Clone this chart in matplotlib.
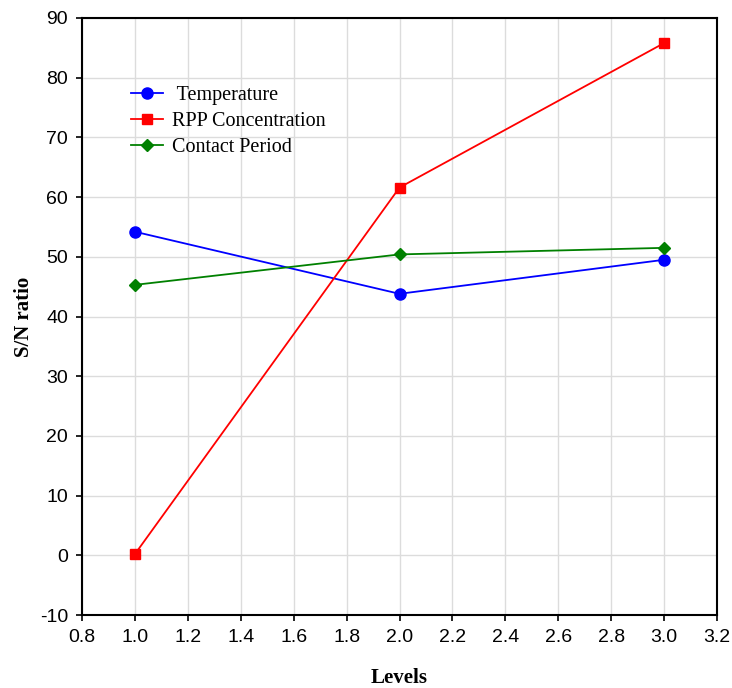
import matplotlib
matplotlib.use("Agg")
import matplotlib.pyplot as plt

plt.rcParams["axes.unicode_minus"] = False

# ── Data ─────────────────────────────────────────
levels = [1.0, 2.0, 3.0]
temperature = [54.2, 43.8, 49.5]
rpp_concentration = [0.2, 61.6, 85.8]
contact_period = [45.3, 50.4, 51.5]

xticks = [0.8, 1.0, 1.2, 1.4, 1.6, 1.8, 2.0, 2.2, 2.4, 2.6, 2.8, 3.0, 3.2]
yticks = [-10, 0, 10, 20, 30, 40, 50, 60, 70, 80, 90]

fig = plt.figure(figsize=(7.32, 6.88), dpi=100)
ax = fig.add_axes([82 / 732, 1 - 615 / 688, 635 / 732, 597 / 688])

ax.plot(levels, temperature, color="#0000ff", marker="o", markersize=8,
        linewidth=1.3, label=" Temperature", zorder=5)
ax.plot(levels, rpp_concentration, color="#ff0000", marker="s", markersize=7.5,
        linewidth=1.3, label="RPP Concentration", zorder=5)
ax.plot(levels, contact_period, color="#008000", marker="D", markersize=6.5,
        linewidth=1.3, label="Contact Period", zorder=5)

ax.set_xlim(0.8, 3.2)
ax.set_ylim(-10, 90)
ax.set_xticks(xticks)
ax.set_xticklabels([f"{t:.1f}" for t in xticks])
ax.set_yticks(yticks)

sans = ["Liberation Sans", "DejaVu Sans"]
serif = ["Liberation Serif", "DejaVu Serif"]
for lbl in ax.get_xticklabels() + ax.get_yticklabels():
    lbl.set_family(sans)
    lbl.set_fontsize(14)

ax.tick_params(direction="out", length=4, width=1.2, pad=6)
ax.set_xlabel("Levels", family=serif, fontweight="bold", fontsize=15, labelpad=16)
ax.set_ylabel("S/N ratio", family=serif, fontweight="bold", fontsize=15, labelpad=4)

ax.grid(True, color="#dcdcdc", linewidth=1.0)
ax.set_axisbelow(True)
for spine in ax.spines.values():
    spine.set_linewidth(1.5)

ax.legend(loc="upper left", bbox_to_anchor=(0.064, 0.9), frameon=False,
          prop={"family": serif, "size": 14.5}, handlelength=1.6,
          labelspacing=0.35, handletextpad=0.45, borderaxespad=0)

fig.savefig("out.png", dpi=100, facecolor="white")
